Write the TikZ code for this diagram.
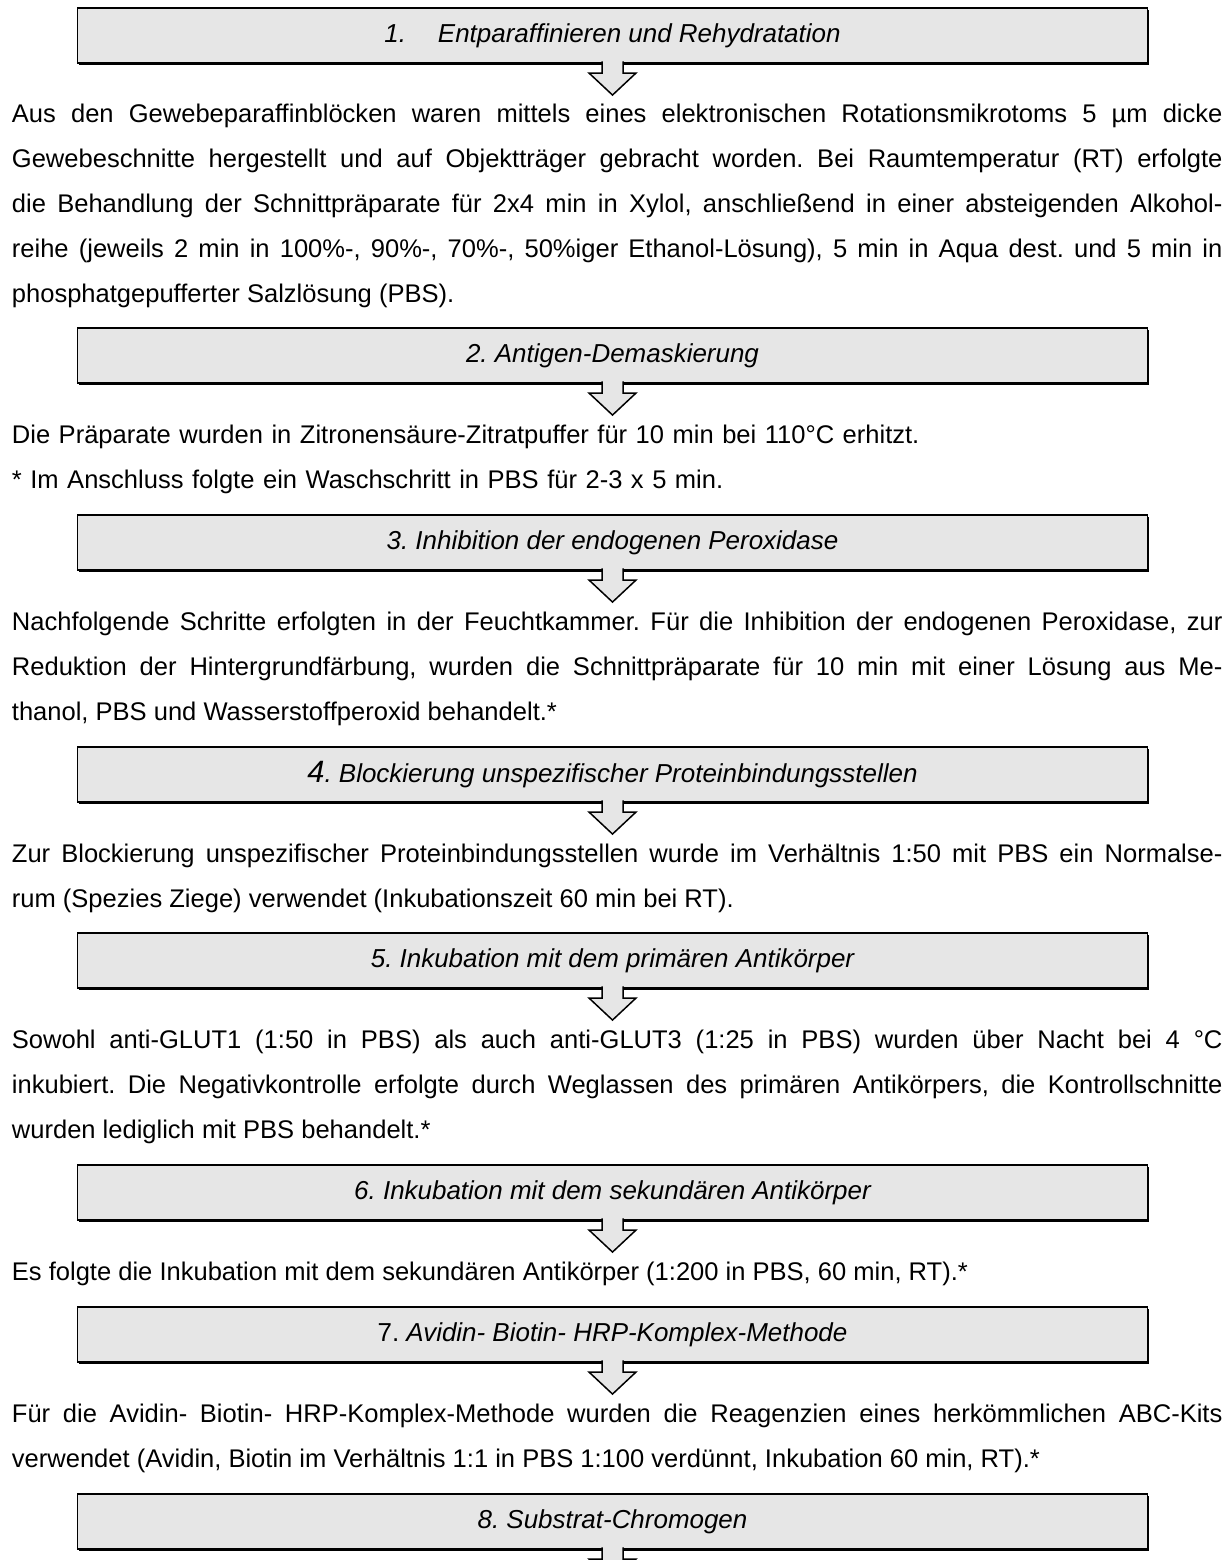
\documentclass[tikz,border=0pt]{standalone}
\usepackage{fontspec}
\setmainfont{Liberation Sans}
\usetikzlibrary{shadows}
\frenchspacing
\definecolor{boxgray}{RGB}{230,230,230}
\tikzset{
  stepbox/.style={draw=black,line width=0.7pt,fill=boxgray,minimum width=502.9pt,
    minimum height=25.9pt,inner sep=0pt,outer sep=0pt,
    font=\fontsize{12.2}{14}\selectfont\itshape,
    general shadow={fill=black,shadow xshift=0.9pt,shadow yshift=-0.9pt}},
  para/.style={anchor=base west,inner sep=0pt,text width=569pt,align=#1,
    font=\fontsize{12}{21.15}\selectfont},
  para/.default=justify,
  % block arrow below each step
  pics/downarrow/.style={code={
    \filldraw[fill=boxgray,draw=black,line width=0.7pt,line join=miter]
      (-10.5,-1.6) -- (-10.5,10) -- (-23.5,10) -- (0,32) -- (23.5,10) -- (10.5,10) -- (10.5,-1.6);
  }},
}
\begin{document}
\begin{tikzpicture}[x=0.47pt,y=-0.47pt]
  \useasboundingbox (0,0) rectangle (1231,1560);
  \foreach \i/\y/\t in {1/35.5/{1.\hspace{15pt}Entparaffinieren und Rehydratation},
      2/355.5/{2. Antigen-Demaskierung},
      3/542.5/{3. Inhibition der endogenen Peroxidase},
      4/774.5/{{\fontsize{14.5}{14}\selectfont 4}. Blockierung unspezifischer Proteinbindungsstellen},
      5/960.5/{5. Inkubation mit dem primären Antikörper},
      6/1192.5/{6. Inkubation mit dem sekundären Antikörper},
      7/1334.5/{{\upshape 7.} Avidin- Biotin- HRP-Komplex-Methode},
      8/1521.5/{8. Substrat-Chromogen}}{
    \node[stepbox] (step\i) at (612.5,\y) {\t};
  }
  \foreach \i in {1,...,8} \pic at (step\i.south) {downarrow};

  \node[para] (text1) at (11.5,123) {Aus den Gewebeparaffinblöcken waren mittels eines elektronischen Rotationsmikrotoms 5 µm dicke\linebreak
    Gewebeschnitte hergestellt und auf Objektträger gebracht worden. Bei Raumtemperatur (RT) erfolgte\linebreak
    die Behandlung der Schnittpräparate für 2x4 min in Xylol, anschließend in einer absteigenden Alkohol-\linebreak
    reihe (jeweils 2 min in 100\%-, 90\%-, 70\%-, 50\%iger Ethanol-Lösung), 5 min in Aqua dest. und 5 min in\linebreak
    phosphatgepufferter Salzlösung (PBS).};
  \node[para=left] (text2) at (11.5,443) {Die Präparate wurden in Zitronensäure-Zitratpuffer für 10 min bei 110°C erhitzt.\\
    \relax * Im Anschluss folgte ein Waschschritt in PBS für 2-3 x 5 min.};
  \node[para] (text3) at (11.5,630) {Nachfolgende Schritte erfolgten in der Feuchtkammer. Für die Inhibition der endogenen Peroxidase, zur\linebreak
    Reduktion der Hintergrundfärbung, wurden die Schnittpräparate für 10 min mit einer Lösung aus Me-\linebreak
    thanol, PBS und Wasserstoffperoxid behandelt.*};
  \node[para] (text4) at (11.5,862) {Zur Blockierung unspezifischer Proteinbindungsstellen wurde im Verhältnis 1:50 mit PBS ein Normalse-\linebreak
    rum (Spezies Ziege) verwendet (Inkubationszeit 60 min bei RT).};
  \node[para] (text5) at (11.5,1048) {Sowohl anti-GLUT1 (1:50 in PBS) als auch anti-GLUT3 (1:25 in PBS) wurden über Nacht bei 4 °C\linebreak
    inkubiert. Die Negativkontrolle erfolgte durch Weglassen des primären Antikörpers, die Kontrollschnitte\linebreak
    wurden lediglich mit PBS behandelt.*};
  \node[para] (text6) at (11.5,1280) {Es folgte die Inkubation mit dem sekundären Antikörper (1:200 in PBS, 60 min, RT).*};
  \node[para] (text7) at (11.5,1422) {Für die Avidin- Biotin- HRP-Komplex-Methode wurden die Reagenzien eines herkömmlichen ABC-Kits\linebreak
    verwendet (Avidin, Biotin im Verhältnis 1:1 in PBS 1:100 verdünnt, Inkubation 60 min, RT).*};
\end{tikzpicture}
\end{document}
